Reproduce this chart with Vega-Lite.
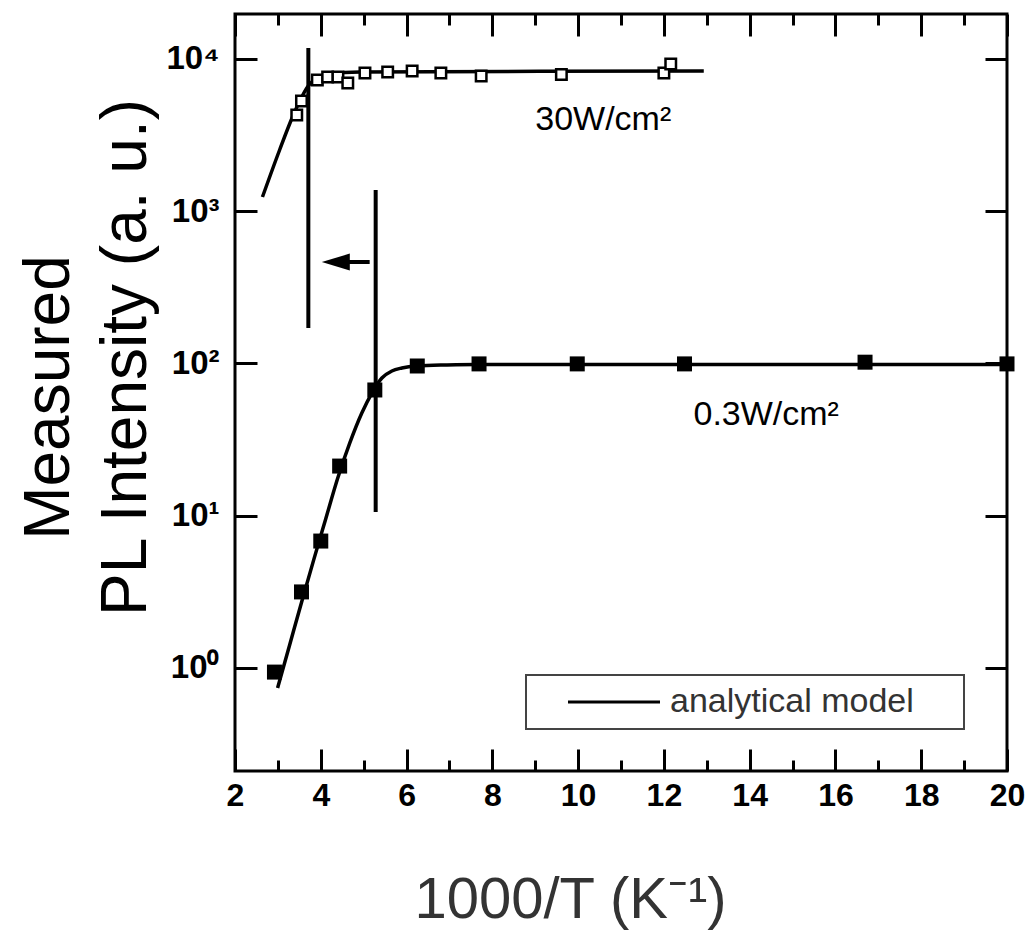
{
  "$schema": "https://vega.github.io/schema/vega-lite/v6.json",
  "width": 772,
  "height": 757,
  "autosize": "none",
  "padding": {"left": 235, "top": 14, "right": 22, "bottom": 162},
  "background": "white",
  "config": {
    "view": {"stroke": "black", "strokeWidth": 3},
    "font": "Liberation Sans",
    "legend": {"strokeWidth": 2},
    "axis": {"grid": false, "domain": false, "tickColor": "black", "tickWidth": 3, "labelFont": "Liberation Sans", "labelFontWeight": "bold", "labelFontSize": 32, "labelColor": "black", "titleFont": "Liberation Sans"}
  },
  "datasets": {
    "filled": [
      {"x": 2.92, "y": 0.94}, {"x": 3.55, "y": 3.16}, {"x": 4.0, "y": 6.82}, {"x": 4.44, "y": 21.2},
      {"x": 5.26, "y": 67}, {"x": 6.25, "y": 96.3}, {"x": 7.69, "y": 99.4}, {"x": 9.98, "y": 99.4},
      {"x": 12.48, "y": 99.4}, {"x": 16.69, "y": 102}, {"x": 20.0, "y": 99.4}
    ],
    "open": [
      {"x": 3.44, "y": 4290}, {"x": 3.55, "y": 5300}, {"x": 3.92, "y": 7280}, {"x": 4.16, "y": 7620},
      {"x": 4.40, "y": 7620}, {"x": 4.63, "y": 6950}, {"x": 5.03, "y": 8090}, {"x": 5.56, "y": 8220},
      {"x": 6.13, "y": 8340}, {"x": 6.8, "y": 8090}, {"x": 7.74, "y": 7730}, {"x": 9.61, "y": 7900},
      {"x": 12.0, "y": 8090}, {"x": 12.16, "y": 9270}
    ],
    "fitFilled": [
      {"x": 2.993, "y": 0.739, "model": "analytical model"}, {"x": 3.274, "y": 1.416, "model": "analytical model"},
      {"x": 3.554, "y": 2.716, "model": "analytical model"}, {"x": 3.835, "y": 5.13, "model": "analytical model"},
      {"x": 4.115, "y": 9.53, "model": "analytical model"}, {"x": 4.396, "y": 17.7, "model": "analytical model"},
      {"x": 4.677, "y": 30.1, "model": "analytical model"}, {"x": 4.957, "y": 47.3, "model": "analytical model"},
      {"x": 5.191, "y": 64.0, "model": "analytical model"}, {"x": 5.425, "y": 80.3, "model": "analytical model"},
      {"x": 5.658, "y": 89.3, "model": "analytical model"}, {"x": 5.892, "y": 93.4, "model": "analytical model"},
      {"x": 6.243, "y": 96.3, "model": "analytical model"}, {"x": 6.944, "y": 97.8, "model": "analytical model"},
      {"x": 7.645, "y": 98.5, "model": "analytical model"}, {"x": 20.0, "y": 98.5, "model": "analytical model"}
    ],
    "fitOpen": [
      {"x": 2.64, "y": 1240, "model": "analytical model"}, {"x": 3.04, "y": 2525, "model": "analytical model"},
      {"x": 3.34, "y": 4160, "model": "analytical model"}, {"x": 3.51, "y": 5300, "model": "analytical model"},
      {"x": 3.69, "y": 6550, "model": "analytical model"}, {"x": 3.88, "y": 7400, "model": "analytical model"},
      {"x": 4.21, "y": 7950, "model": "analytical model"}, {"x": 4.91, "y": 8220, "model": "analytical model"},
      {"x": 12.93, "y": 8340, "model": "analytical model"}
    ],
    "vlines": [
      {"x": 3.71, "y": 11800, "y2": 171},
      {"x": 5.28, "y": 1380, "y2": 10.6}
    ],
    "arrowShaft": [{"x": 4.4, "x2": 5.14, "y": 464}],
    "arrowHead": [{"x": 4.35, "y": 464}],
    "notes": [
      {"x": 9.0, "y": 3420, "text": "30W/cm²"},
      {"x": 12.69, "y": 39.5, "text": "0.3W/cm²"}
    ]
  },
  "resolve": {"axis": {"x": "independent", "y": "independent"}},
  "layer": [
    {
      "data": {"name": "fitFilled"},
      "mark": {"type": "line", "interpolate": "monotone", "strokeWidth": 3.5},
      "encoding": {
        "x": {"field": "x", "type": "quantitative", "scale": {"domain": [2, 20], "nice": false, "zero": false},
          "axis": {"orient": "bottom", "values": [2, 4, 6, 8, 10, 12, 14, 16, 18, 20], "ticks": false, "labelPadding": 9, "labelFlush": false,
            "title": "1000/T (K⁻¹)", "titleFontSize": 58, "titleFontWeight": "normal", "titleColor": "#333333",
            "titleX": 335, "titleY": 146, "titleBaseline": "alphabetic", "titleAlign": "center"}},
        "y": {"field": "y", "type": "quantitative", "scale": {"type": "log", "domain": [0.2106, 19750], "nice": false},
          "axis": {"orient": "left", "values": [1, 10, 100, 1000, 10000], "ticks": false, "labelPadding": 16, "labelFontSize": 33,
            "labelExpr": "datum.value == 1 ? '10⁰' : datum.value == 10 ? '10¹' : datum.value == 100 ? '10²' : datum.value == 1000 ? '10³' : '10⁴'",
            "title": "PL Intensity (a. u.)", "titleFontSize": 64, "titleFontWeight": "normal", "titleColor": "black",
            "titleX": -90, "titleY": 343, "titleAngle": 270, "titleBaseline": "alphabetic", "titleAlign": "center"}},
        "stroke": {"field": "model", "type": "nominal", "scale": {"range": ["black"]},
          "legend": {"orient": "none", "legendX": 291, "legendY": 661, "title": null, "strokeColor": "#444444", "padding": 10,
            "symbolType": "M -4 0 L 4 0 M 29 0 L 29 0", "symbolSize": 529, "symbolStrokeWidth": 3, "symbolOffset": 61, "labelOffset": 39,
            "labelFontSize": 34, "labelFont": "Liberation Sans", "labelColor": "#333333", "labelLimit": 0}}
      }
    },
    {
      "data": {"name": "fitOpen"},
      "mark": {"type": "line", "interpolate": "monotone", "strokeWidth": 3.5},
      "encoding": {
        "x": {"field": "x", "type": "quantitative", "scale": {"domain": [2, 20], "nice": false, "zero": false},
          "axis": {"orient": "bottom", "values": [2, 4, 6, 8, 10, 12, 14, 16, 18, 20], "labels": false, "tickSize": -22, "title": null}},
        "y": {"field": "y", "type": "quantitative", "scale": {"type": "log", "domain": [0.2106, 19750], "nice": false},
          "axis": {"orient": "left", "values": [1, 10, 100, 1000, 10000], "labels": false, "tickSize": -22, "title": null}},
        "stroke": {"field": "model", "type": "nominal", "scale": {"range": ["black"]},
          "legend": {"orient": "none", "legendX": 291, "legendY": 661, "title": null, "strokeColor": "#444444", "padding": 10,
            "symbolType": "M -4 0 L 4 0 M 29 0 L 29 0", "symbolSize": 529, "symbolStrokeWidth": 3, "symbolOffset": 61, "labelOffset": 39,
            "labelFontSize": 34, "labelFont": "Liberation Sans", "labelColor": "#333333", "labelLimit": 0}}
      }
    },
    {
      "data": {"name": "filled"},
      "mark": {"type": "point", "shape": "square", "filled": true, "color": "black", "size": 225, "opacity": 1},
      "encoding": {
        "x": {"field": "x", "type": "quantitative", "scale": {"domain": [2, 20], "nice": false, "zero": false},
          "axis": {"orient": "bottom", "values": [3, 5, 7, 9, 11, 13, 15, 17, 19], "labels": false, "tickSize": -11, "title": null}},
        "y": {"field": "y", "type": "quantitative", "scale": {"type": "log", "domain": [0.2106, 19750], "nice": false},
          "axis": {"orient": "right", "values": [1, 10, 100, 1000, 10000], "labels": false, "tickSize": -22, "title": null}}
      }
    },
    {
      "data": {"name": "open"},
      "mark": {"type": "point", "shape": "square", "fill": "white", "stroke": "black", "strokeWidth": 2.5, "size": 110, "opacity": 1},
      "encoding": {
        "x": {"field": "x", "type": "quantitative", "scale": {"domain": [2, 20], "nice": false, "zero": false},
          "axis": {"orient": "top", "values": [2, 4, 6, 8, 10, 12, 14, 16, 18, 20], "labels": false, "tickSize": -22, "title": null}},
        "y": {"field": "y", "type": "quantitative", "scale": {"type": "log", "domain": [0.2106, 19750], "nice": false},
          "axis": {"orient": "left", "ticks": false, "labels": false, "title": "Measured", "titleFontSize": 64, "titleFontWeight": "normal", "titleColor": "black",
            "titleX": -167, "titleY": 383, "titleAngle": 270, "titleBaseline": "alphabetic", "titleAlign": "center"}}
      }
    },
    {
      "data": {"name": "vlines"},
      "mark": {"type": "rule", "strokeWidth": 4, "color": "black"},
      "encoding": {
        "x": {"field": "x", "type": "quantitative", "scale": {"domain": [2, 20], "nice": false, "zero": false},
          "axis": {"orient": "top", "values": [3, 5, 7, 9, 11, 13, 15, 17, 19], "labels": false, "tickSize": -11, "title": null}},
        "y": {"field": "y", "type": "quantitative", "scale": {"type": "log", "domain": [0.2106, 19750], "nice": false}, "axis": null},
        "y2": {"field": "y2"}
      }
    },
    {
      "data": {"name": "arrowShaft"},
      "mark": {"type": "rule", "strokeWidth": 4, "color": "black"},
      "encoding": {
        "x": {"field": "x", "type": "quantitative", "scale": {"domain": [2, 20], "nice": false, "zero": false}, "axis": null},
        "x2": {"field": "x2"},
        "y": {"field": "y", "type": "quantitative", "scale": {"type": "log", "domain": [0.2106, 19750], "nice": false}, "axis": null}
      }
    },
    {
      "data": {"name": "arrowHead"},
      "mark": {"type": "point", "shape": "M -1 0 L 1 -0.6 L 1 0.6 Z", "filled": true, "color": "black", "size": 784, "opacity": 1},
      "encoding": {
        "x": {"field": "x", "type": "quantitative", "scale": {"domain": [2, 20], "nice": false, "zero": false}, "axis": null},
        "y": {"field": "y", "type": "quantitative", "scale": {"type": "log", "domain": [0.2106, 19750], "nice": false}, "axis": null}
      }
    },
    {
      "data": {"name": "notes"},
      "mark": {"type": "text", "align": "left", "baseline": "alphabetic", "fontSize": 34, "font": "Liberation Sans", "color": "black"},
      "encoding": {
        "x": {"field": "x", "type": "quantitative", "scale": {"domain": [2, 20], "nice": false, "zero": false}, "axis": null},
        "y": {"field": "y", "type": "quantitative", "scale": {"type": "log", "domain": [0.2106, 19750], "nice": false}, "axis": null},
        "text": {"field": "text"}
      }
    }
  ]
}
